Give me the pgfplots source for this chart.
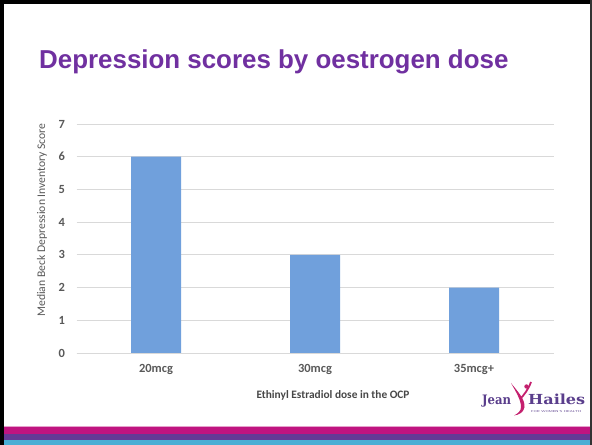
\documentclass[border=0pt]{standalone}
\usepackage{pgfplots}
\pgfplotsset{compat=1.18}
\usepackage{fontspec}
\setmainfont{Carlito}
\newfontfamily\titlefont{Liberation Sans}
\newfontfamily\logofont{DejaVu Serif}

\definecolor{titlepurple}{RGB}{112,48,160}
\definecolor{barblue}{RGB}{112,160,220}
\definecolor{gridgray}{RGB}{217,217,217}
\definecolor{labelgray}{RGB}{89,89,89}
\definecolor{stripmagenta}{RGB}{192,20,128}
\definecolor{strippurple}{RGB}{100,58,150}
\definecolor{stripblue}{RGB}{74,174,212}
\definecolor{logopurple}{RGB}{90,62,140}
\definecolor{logopink}{RGB}{196,32,110}

\begin{document}
\begin{tikzpicture}
% slide background and frame
\fill[white] (0bp,0bp) rectangle (592bp,445bp);
\useasboundingbox (0bp,0bp) rectangle (592bp,445bp);

% bottom colour band
\fill[stripblue] (0bp,0bp) rectangle (592bp,5bp);
\fill[strippurple] (0bp,5bp) rectangle (592bp,11bp);
\fill[stripmagenta] (0bp,11bp) rectangle (592bp,18bp);
\fill[stripmagenta!40] (0bp,18bp) rectangle (592bp,19bp);

\fill[black] (0bp,0bp) rectangle (4bp,445bp);
\fill[black] (0bp,441bp) rectangle (592bp,445bp);
\fill[black!80] (589.5bp,0bp) rectangle (591.5bp,445bp);

% title
\node[anchor=base west, inner sep=0pt, text=titlepurple,
      font=\titlefont\bfseries\fontsize{26}{30}\selectfont]
      at (39bp,376.7bp) {Depression scores by oestrogen dose};

\begin{axis}[
  at={(76.5bp,92bp)}, anchor=south west,
  scale only axis, width=477bp, height=229bp,
  ymin=0, ymax=7, ytick={0,1,2,3,4,5,6,7},
  xmin=-0.5, xmax=2.5,
  xtick={0,1,2}, xticklabels={20mcg,30mcg,35mcg+},
  axis x line=bottom, axis y line=left,
  x axis line style={draw=gridgray, line width=0.8bp, -},
  y axis line style={draw=none},
  major tick length=0pt,
  ymajorgrids, grid style={draw=gridgray, line width=0.8bp},
  /pgf/number format/assume math mode=true,
  ticklabel style={font=\fontsize{12.5}{14}\selectfont\bfseries, text=labelgray},
  yticklabel style={xshift=-8bp},
  xticklabel style={yshift=-8bp},
  ybar, bar width=50bp,
  clip=false,
]
\addplot[fill=barblue, draw=none] coordinates {(0,6) (1,3) (2,2)};
\end{axis}

% axis titles
\node[rotate=90, text=labelgray, font=\fontsize{11.7}{14}\selectfont, inner sep=0pt]
  at (42bp,225bp) {Median Beck Depression Inventory Score};
\node[text=labelgray!80!black, font=\fontsize{11.4}{14}\selectfont\bfseries, inner sep=0pt]
  at (333bp,50bp) {Ethinyl Estradiol dose in the OCP};

% logo
\node[anchor=base west, inner sep=0pt, text=logopurple]
  at (482bp,40bp) {\resizebox{29bp}{9.5bp}{\logofont\bfseries Jean}};
\node[anchor=base west, inner sep=0pt, text=logopurple]
  at (528bp,40bp) {\resizebox{57bp}{10.5bp}{\logofont\bfseries Hailes}};
\node[anchor=base west, inner sep=0pt, text=logopurple]
  at (531bp,32.5bp) {\resizebox{50bp}{2bp}{\sffamily FOR WOMEN'S HEALTH}};
\fill[logopink] (511bp,62bp) .. controls (518bp,53bp) and (525bp,46bp) .. (524.5bp,38bp)
  .. controls (524bp,33bp) and (519bp,30bp) .. (514bp,29.5bp)
  .. controls (518bp,31.5bp) and (521bp,34bp) .. (521bp,38bp)
  .. controls (521bp,45bp) and (516bp,53bp) .. (511bp,62bp) -- cycle;
\draw[logopink, line width=1.8bp] (531bp,63bp) .. controls (528bp,55bp) and (524bp,50bp) .. (520bp,46bp);
\fill[logopink] (526.5bp,58.5bp) circle (2.2bp);
\end{tikzpicture}
\end{document}
